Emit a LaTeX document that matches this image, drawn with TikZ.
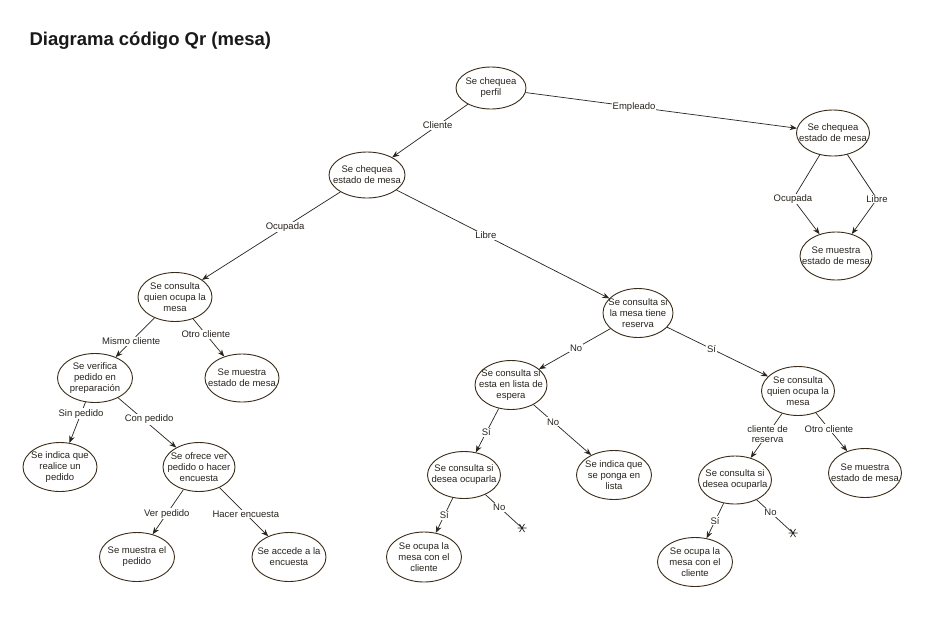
\documentclass[tikz,border=0pt]{standalone}
\usepackage{fontspec}
\setmainfont{Liberation Sans}
\usetikzlibrary{shapes.geometric,arrows.meta}
\definecolor{outl}{RGB}{58,44,24}
\definecolor{ink}{RGB}{40,36,30}
\tikzset{
  st/.style={ellipse,draw=outl,line width=0.9pt,fill=white,inner xsep=-14pt,inner ysep=-9pt,
    minimum width=74pt,minimum height=49pt,align=center,text=ink,
    font=\fontsize{9.5}{11}\selectfont},
  arr/.style={draw=ink,line width=0.7pt,-{Stealth[length=7pt,width=5.5pt]}},
  lin/.style={draw=ink,line width=0.7pt},
  lab/.style={fill=white,inner sep=1pt,text=ink,align=center,
    font=\fontsize{9.5}{10.5}\selectfont},
}
\newcommand{\astmark}[1]{%
  \draw[ink,line width=0.7pt] (#1)+(-4.5,0) -- +(4.5,0)
    (#1)+(-2.5,-4) -- +(2.5,4) (#1)+(-2.5,4) -- +(2.5,-4);}
\begin{document}
\begin{tikzpicture}[x=1pt,y=-1pt]
\useasboundingbox[fill=white] (0,0) rectangle (938,633);
\node[anchor=west,font=\fontsize{18.5}{20}\selectfont\bfseries,text=black!90] (title) at (26,41) {Diagrama código Qr (mesa)};

\node[st,minimum width=70pt,minimum height=42pt] (perfil) at (491,88) {Se chequea\\perfil};
\node[st,minimum width=76pt,minimum height=46pt] (estL) at (367,175) {Se chequea\\estado de mesa};
\node[st,minimum width=73pt,minimum height=46pt] (estR) at (833,133) {Se chequea\\estado de mesa};
\node[st,minimum width=72pt,minimum height=48pt] (muR) at (836,256) {Se muestra\\estado de mesa};
\node[st] (quienL) at (175,297) {Se consulta\\quien ocupa la\\mesa};
\node[st,minimum width=75pt] (verif) at (95,378) {Se verifica\\pedido en\\preparación};
\node[st,minimum height=48pt] (muL) at (242,378) {Se muestra\\estado de mesa};
\node[st] (indica) at (60,467) {Se indica que\\realice un\\pedido};
\node[st,minimum width=72pt] (ofrece) at (199,467) {Se ofrece ver\\pedido o hacer\\encuesta};
\node[st,minimum width=75pt] (mped) at (137,557) {Se muestra el\\pedido};
\node[st] (accede) at (289,557) {Se accede a la\\encuesta};
\node[st,minimum width=70pt] (reserva) at (638,313) {Se consulta si\\la mesa tiene\\reserva};
\node[st,minimum width=72pt] (espera) at (511,385) {Se consulta si\\esta en lista de\\espera};
\node[st,minimum width=75pt] (ilista) at (614,475) {Se indica que\\se ponga en\\lista};
\node[st,minimum width=73pt,minimum height=47pt] (desM) at (464,475) {Se consulta si\\desea ocuparla};
\node[st,minimum width=75pt,minimum height=50pt] (ocuM) at (424,557) {Se ocupa la\\mesa con el\\cliente};
\node[st,minimum width=73pt] (quienR) at (798,391) {Se consulta\\quien ocupa la\\mesa};
\node[st,minimum width=73pt,minimum height=48pt] (desR) at (735,480) {Se consulta si\\desea ocuparla};
\node[st,minimum width=73pt] (muR2) at (865,473) {Se muestra\\estado de mesa};
\node[st,minimum width=75pt] (ocuR) at (695,562) {Se ocupa la\\mesa con el\\cliente};

\coordinate (starM) at (522,528);
\coordinate (starR) at (793,533);
\coordinate (bOc) at (793,199);
\coordinate (bLi) at (877,199);

\draw[arr] (perfil) -- node[lab,pos=0.4] (lCli) {Cliente} (estL);
\draw[arr] (perfil) -- node[lab,pos=0.4,inner sep=0.5pt] (lEmp) {Empleado} (estR);
\draw[arr] (estR) -- (bOc) -- (muR);
\node[lab] (lOc) at (bOc) {Ocupada};
\draw[arr] (estR) -- (bLi) -- (muR);
\node[lab] (lLi) at (bLi) {Libre};
\draw[arr] (estL) -- node[lab,pos=0.4] (lOcL) {Ocupada} (quienL);
\draw[arr] (estL) -- node[lab,pos=0.42] (lLiL) {Libre} (reserva);
\draw[arr] (quienL) -- node[lab,pos=0.6] (lMis) {Mismo cliente} (verif);
\draw[arr] (quienL) -- node[lab,pos=0.41] (lOtL) {Otro cliente} (muL);
\draw[arr] (verif) -- node[lab,pos=0.28] (lSin) {Sin pedido} (indica);
\draw[arr] (verif) -- node[lab,pos=0.43,xshift=6pt] (lCon) {Con pedido} (ofrece);
\draw[arr] (ofrece) -- node[lab,pos=0.54] (lVer) {Ver pedido} (mped);
\draw[arr] (ofrece) -- node[lab,pos=0.54] (lHac) {Hacer encuesta} (accede);
\draw[arr] (reserva) -- node[lab,pos=0.48] (lNo1) {No} (espera);
\draw[arr] (reserva) -- node[lab,pos=0.44] (lSi1) {Sí} (quienR);
\draw[arr] (espera) -- node[lab,pos=0.54] (lSi2) {Sí} (desM);
\draw[arr] (espera) -- node[lab,pos=0.34] (lNo2) {No} (ilista);
\draw[arr] (desM) -- node[lab,pos=0.5] (lSi3) {Sí} (ocuM);
\draw[lin] (desM) -- node[lab,pos=0.38] (lNo3) {No} (starM);
\astmark{starM}
\draw[arr] (quienR) -- node[lab,pos=0.46,inner sep=0.5pt] (lCR) {cliente de\\reserva} (desR);
\draw[arr] (quienR) -- node[lab,pos=0.42] (lOtR) {Otro cliente} (muR2);
\draw[arr] (desR) -- node[lab,pos=0.5] (lSi4) {Sí} (ocuR);
\draw[lin] (desR) -- node[lab,pos=0.38] (lNo4) {No} (starR);
\astmark{starR}
\end{tikzpicture}
\end{document}
